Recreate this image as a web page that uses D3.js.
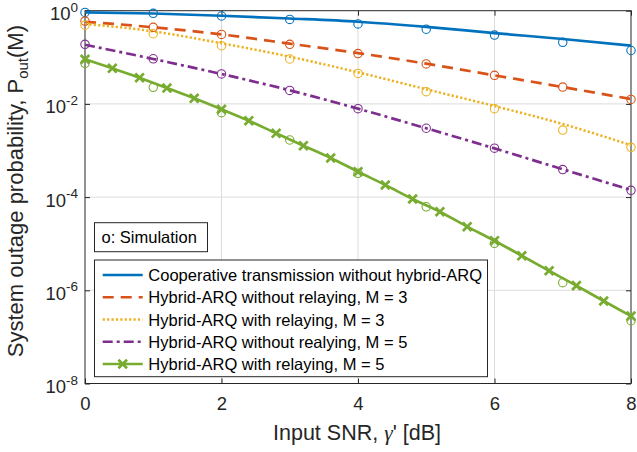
<!DOCTYPE html>
<html>
<head>
<meta charset="utf-8">
<script src="https://cdn.jsdelivr.net/npm/d3@7"></script>
<style>
  html, body { margin: 0; padding: 0; background: #fff; }
  svg { display: block; font-family: "Liberation Sans", Arial, Helvetica, sans-serif; }
</style>
</head>
<body>
<svg id="chart" width="637" height="452"></svg>
<script>
// ---------- data ----------
const xTicks = [0, 2, 4, 6, 8];
const yTickExps = [0, -2, -4, -6, -8];
const xSim = [0, 1, 2, 3, 4, 5, 6, 7, 8];
const xTheory = [0, 1, 2, 3, 4, 5, 6, 7, 8];
const xGreen = [0, 0.4, 0.8, 1.2, 1.6, 2.0, 2.4, 2.8, 3.2, 3.6, 4.0, 4.4, 4.8, 5.2, 5.6, 6.0, 6.4, 6.8, 7.2, 7.6, 8.0];

const coopTheory = [0.92, 0.87, 0.78, 0.68, 0.58, 0.45, 0.33, 0.247, 0.178];
const coopSim = [0.92, 0.88, 0.77, 0.65, 0.52, 0.40, 0.30, 0.21, 0.14];

const noRelay3Theory = [0.58, 0.44, 0.31, 0.196, 0.123, 0.073, 0.041, 0.023, 0.0127];
const noRelay3Sim = [0.60, 0.44, 0.31, 0.19, 0.12, 0.072, 0.041, 0.023, 0.0125];

const relay3Theory = [0.52, 0.36, 0.20, 0.103, 0.0477, 0.0206, 0.0090, 0.0037, 0.0013];
const relay3Sim = [0.49, 0.32, 0.177, 0.092, 0.045, 0.0183, 0.0079, 0.00275, 0.00117];

const noRelay5Theory = [0.186, 0.092, 0.0438, 0.0196, 0.0079, 0.0030, 0.00111, 3.95e-4, 1.42e-4];
const noRelay5Sim = [0.19, 0.093, 0.044, 0.0195, 0.0079, 0.0030, 0.00112, 3.9e-4, 1.4e-4];

const relay5Theory = [0.0906, 0.058, 0.0365, 0.0219, 0.0132, 0.00766, 0.00436, 0.00234, 0.00127, 6.9e-4, 3.51e-4, 1.82e-4, 9.1e-5, 4.86e-5, 2.32e-5, 1.16e-5, 5.5e-6, 2.63e-6, 1.26e-6, 5.9e-7, 2.8e-7];
const relay5Sim = [0.0743, 0.0227, 0.00647, 0.00168, 3.24e-4, 6.2e-5, 1.02e-5, 1.46e-6, 2.23e-7];

const legendLabels = [
  "Cooperative transmission without hybrid-ARQ",
  "Hybrid-ARQ without relaying, M = 3",
  "Hybrid-ARQ with relaying, M = 3",
  "Hybrid-ARQ without realying, M = 5",
  "Hybrid-ARQ with relaying, M = 5"
];

// ---------- layout ----------
const L = 85, R = 631, T = 10.7, B = 383.5;
const svg = d3.select("#chart");

const x = d3.scaleLinear().domain([0, 8]).range([L, R]);
const y = d3.scaleLog().domain([1e-8, 1]).range([B, T]);
const yTicks = yTickExps.map(e => Math.pow(10, e));

const series = [
  { xs: xTheory, th: coopTheory, sim: coopSim, color: "#0072BD", dash: null, width: 2.7 },
  { xs: xTheory, th: noRelay3Theory, sim: noRelay3Sim, color: "#D95319", dash: "11,7", width: 2.7 },
  { xs: xTheory, th: relay3Theory, sim: relay3Sim, color: "#EDB120", dash: "2.2,2.2", width: 2.5 },
  { xs: xTheory, th: noRelay5Theory, sim: noRelay5Sim, color: "#7E2F8E", dash: "10,4,3,4", width: 2.7 },
  { xs: xGreen, th: relay5Theory, sim: relay5Sim, color: "#77AC30", dash: null, width: 2.7, cross: true }
];

// grid
const grid = svg.append("g").attr("stroke", "#dcdcdc").attr("stroke-width", 1);
grid.selectAll(".gx").data(xTicks.slice(1, -1)).join("line")
  .attr("x1", d => x(d)).attr("x2", d => x(d)).attr("y1", T).attr("y2", B);
grid.selectAll(".gy").data(yTicks.slice(1, -1)).join("line")
  .attr("y1", d => y(d)).attr("y2", d => y(d)).attr("x1", L).attr("x2", R);

// axes (ticks inward on all sides)
const axCol = "#262626";
function styleAxis(g) {
  g.select(".domain").remove();
  g.selectAll(".tick line").attr("stroke", axCol);
}
svg.append("g").attr("transform", `translate(0,${B})`)
  .call(d3.axisBottom(x).tickValues(xTicks).tickSizeInner(-5).tickSizeOuter(0).tickPadding(13).tickFormat(d3.format("d")))
  .call(styleAxis)
  .call(g => g.selectAll("text").attr("fill", axCol).attr("font-size", 18.5)
    .attr("font-family", "Liberation Sans, Arial, sans-serif"));
svg.append("g").attr("transform", `translate(0,${T})`)
  .call(d3.axisTop(x).tickValues(xTicks).tickSizeInner(-5).tickSizeOuter(0).tickFormat(""))
  .call(styleAxis);
svg.append("g").attr("transform", `translate(${L},0)`)
  .call(d3.axisLeft(y).tickValues(yTicks).tickSizeInner(-5).tickSizeOuter(0).tickFormat(""))
  .call(styleAxis);
svg.append("g").attr("transform", `translate(${R},0)`)
  .call(d3.axisRight(y).tickValues(yTicks).tickSizeInner(-5).tickSizeOuter(0).tickFormat(""))
  .call(styleAxis);

// y tick labels with superscripts
const yl = svg.append("g").attr("fill", axCol);
yTickExps.forEach(e => {
  const t = yl.append("text").attr("x", 78).attr("y", y(Math.pow(10, e)) + 9.5)
    .attr("text-anchor", "end").attr("font-size", 18.5);
  t.append("tspan").text("10");
  t.append("tspan").attr("dy", -8.5).attr("font-size", 13.5).text(String(e));
});

// box
svg.append("rect").attr("x", L).attr("y", T).attr("width", R - L).attr("height", B - T)
  .attr("fill", "none").attr("stroke", axCol).attr("stroke-width", 1);

// lines
const line = d3.line().curve(d3.curveMonotoneX);
series.forEach(s => {
  svg.append("path")
    .attr("d", line(s.xs.map((v, i) => [x(v), y(s.th[i])])))
    .attr("fill", "none").attr("stroke", s.color).attr("stroke-width", s.width)
    .attr("stroke-dasharray", s.dash);
});

// cross markers for green
function crossPath(cx, cy, r) {
  return `M${cx - r},${cy - r}L${cx + r},${cy + r}M${cx - r},${cy + r}L${cx + r},${cy - r}`;
}
const g5 = series[4];
svg.append("g").selectAll("path").data(g5.xs).join("path")
  .attr("d", (d, i) => crossPath(x(d), y(g5.th[i]), 4.3))
  .attr("stroke", g5.color).attr("stroke-width", 2.7).attr("fill", "none");

// simulation circles
series.forEach(s => {
  svg.append("g").selectAll("circle").data(xSim).join("circle")
    .attr("cx", d => x(d)).attr("cy", (d, i) => y(s.sim[i])).attr("r", 4.2)
    .attr("fill", "none").attr("stroke", s.color).attr("stroke-width", 1.1);
});

// axis labels
const xl = svg.append("text").attr("x", (L + R) / 2 - 1).attr("y", 440).attr("text-anchor", "middle")
  .attr("font-size", 21.5).attr("fill", axCol);
xl.append("tspan").text("Input SNR, ");
xl.append("tspan").attr("font-family", "Liberation Serif, Times New Roman, serif").attr("font-style", "italic").text("γ");
xl.append("tspan").text("' [dB]");

const ylab = svg.append("text").attr("transform", `translate(23,${(T + B) / 2 - 6}) rotate(-90)`)
  .attr("text-anchor", "middle").attr("font-size", 22).attr("fill", axCol);
ylab.append("tspan").text("System outage probability, P");
ylab.append("tspan").attr("font-size", 15).attr("dy", 5).text("out");
ylab.append("tspan").attr("dy", -5).text("(M)");

// simulation note box
svg.append("rect").attr("x", 94.5).attr("y", 222.7).attr("width", 113).attr("height", 29)
  .attr("fill", "#fff").attr("stroke", axCol).attr("stroke-width", 1);
svg.append("text").attr("x", 101.5).attr("y", 243).attr("font-size", 16.5).attr("fill", "#000")
  .text("o: Simulation");

// legend
const lg = svg.append("g");
lg.append("rect").attr("x", 94.5).attr("y", 260).attr("width", 393).attr("height", 116.7)
  .attr("fill", "#fff").attr("stroke", axCol).attr("stroke-width", 1);
const rowY = d3.scalePoint().domain(d3.range(legendLabels.length)).range([275, 364]);
legendLabels.forEach((lab, i) => {
  const s = series[i];
  const cy = rowY(i);
  lg.append("line").attr("x1", 102.7).attr("x2", 142.7).attr("y1", cy).attr("y2", cy)
    .attr("stroke", s.color).attr("stroke-width", s.width).attr("stroke-dasharray", s.dash);
  if (s.cross) {
    lg.append("path").attr("d", crossPath(122.7, cy, 4.3)).attr("stroke", s.color)
      .attr("stroke-width", 2.7).attr("fill", "none");
  }
  lg.append("text").attr("x", 148.3).attr("y", cy + 6).attr("font-size", 16.5).attr("fill", "#000").text(lab);
});
</script>
</body>
</html>
